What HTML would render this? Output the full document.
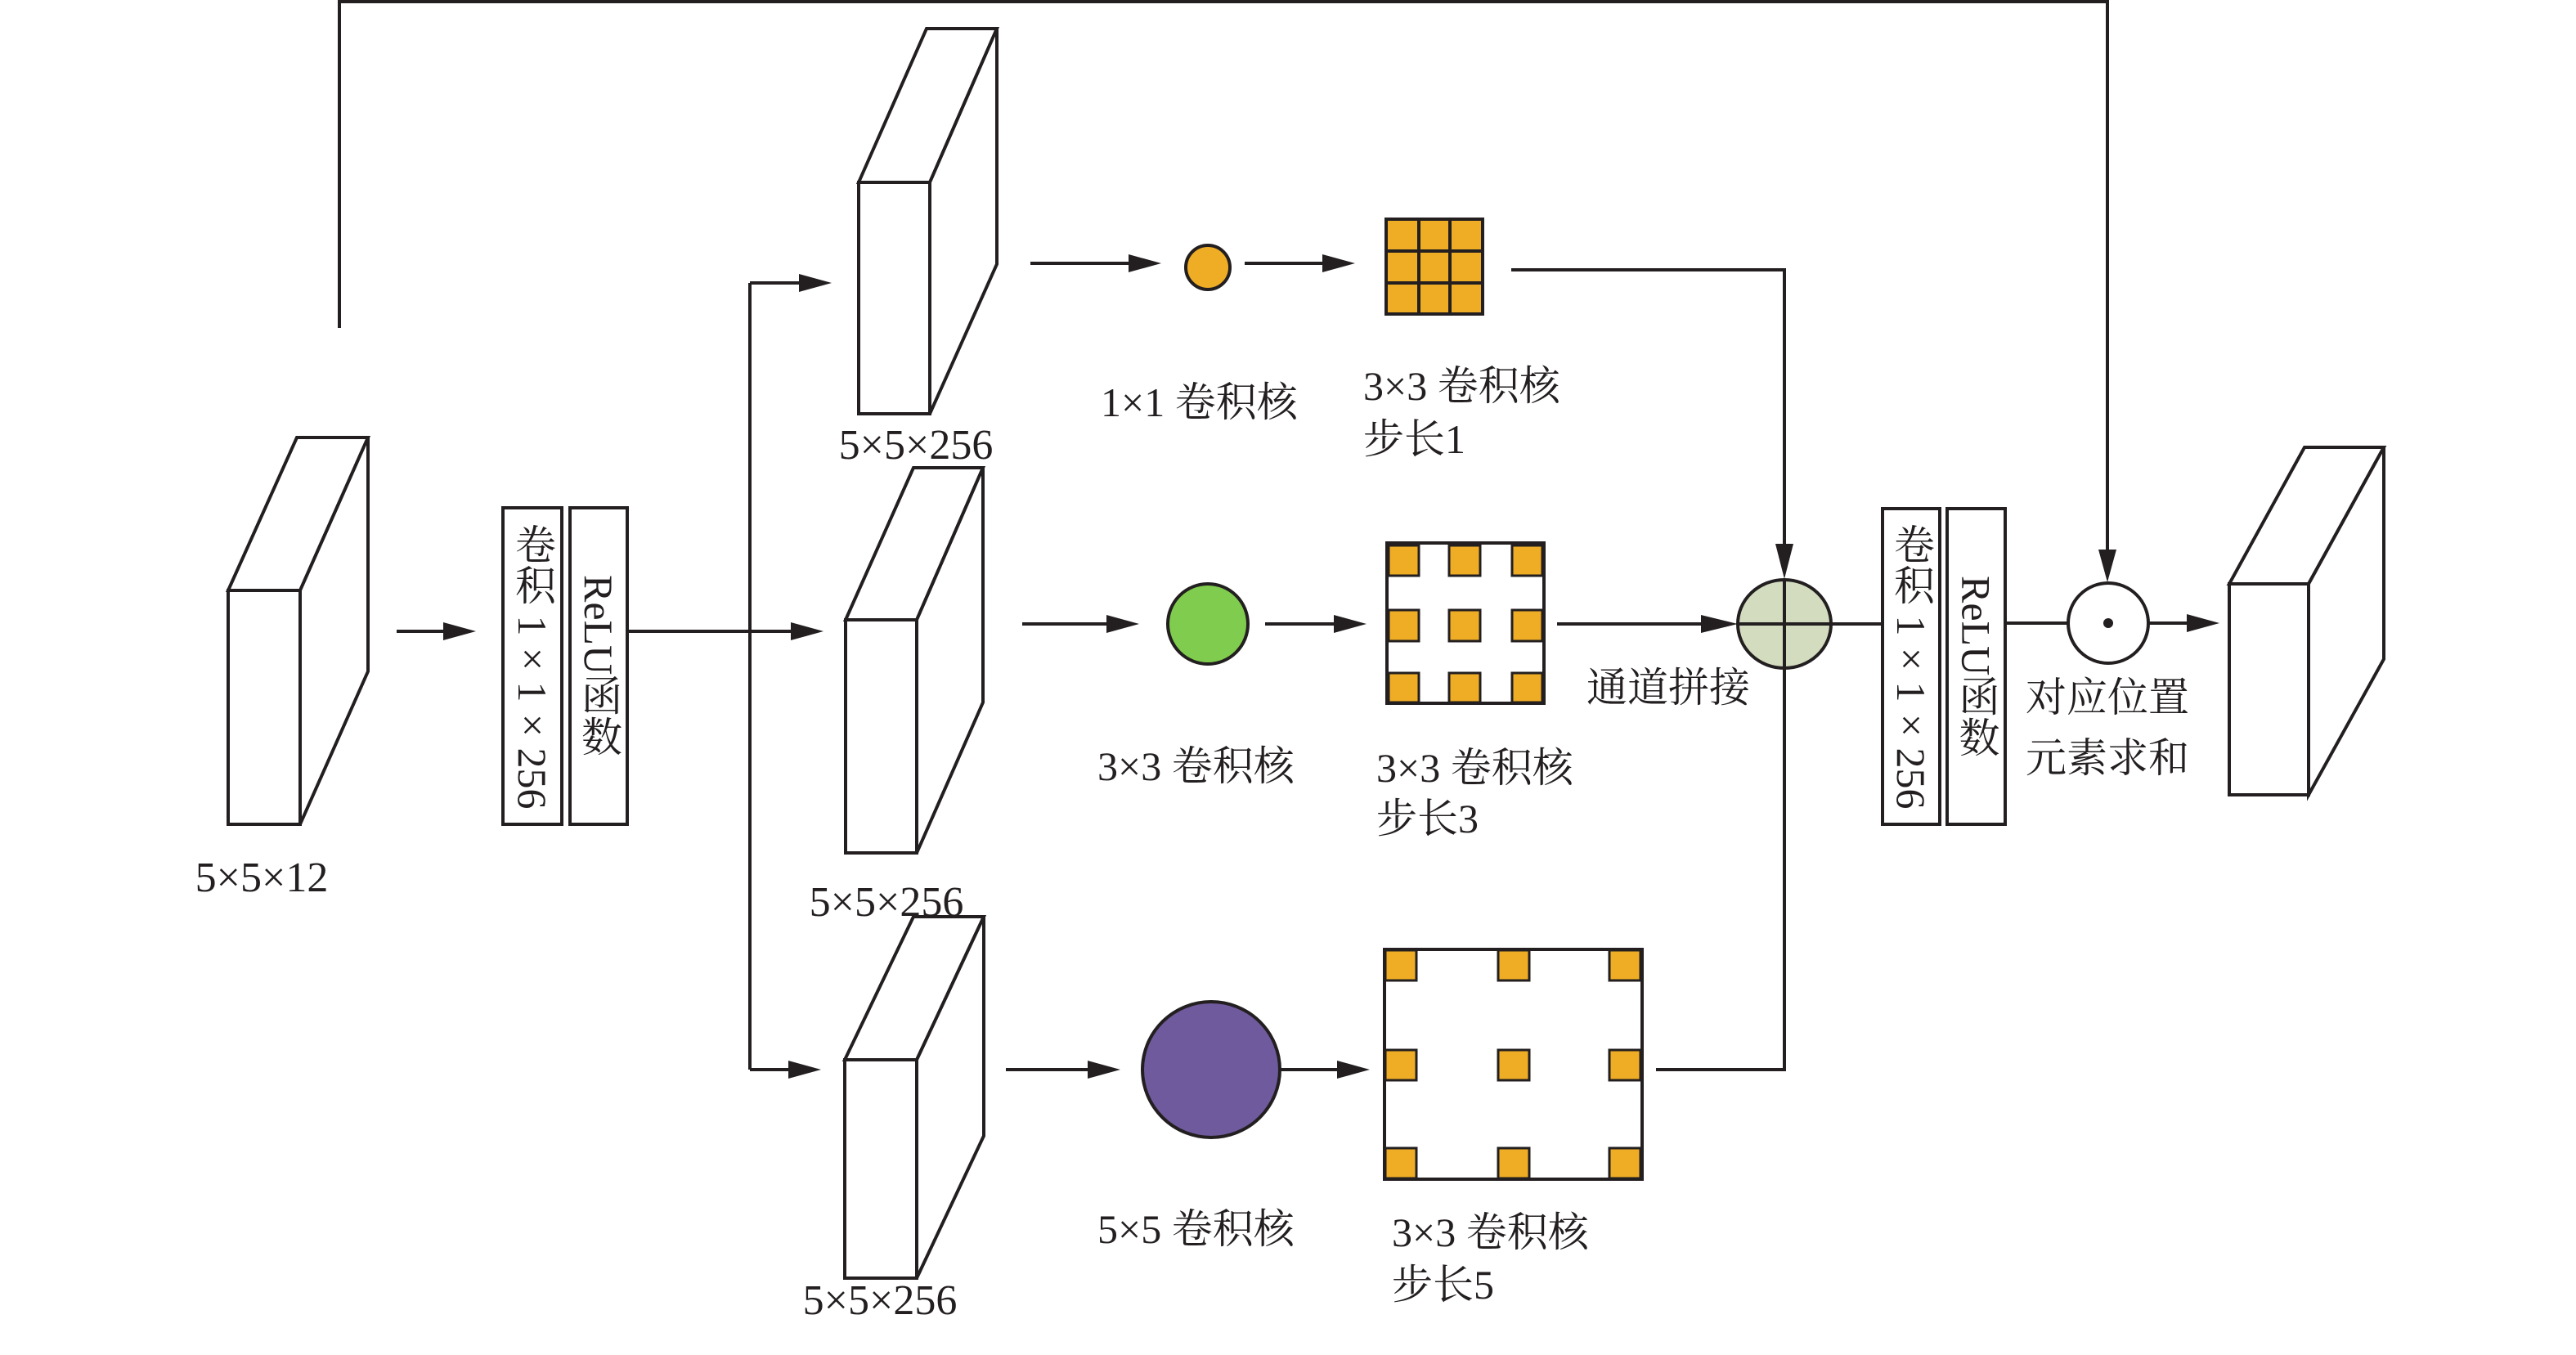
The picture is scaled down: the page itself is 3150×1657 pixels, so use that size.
<!DOCTYPE html>
<html><head><meta charset="utf-8"><style>
html,body{margin:0;padding:0;background:#fff;}
#wrap{position:relative;width:3150px;height:1657px;overflow:hidden;background:#fff;}
svg{position:absolute;left:0;top:0;}
text{font-family:"Liberation Serif","Noto Serif CJK SC",serif;fill:#231f20;}
.v{position:absolute;display:flex;align-items:center;justify-content:center;writing-mode:vertical-rl;font-family:"Liberation Serif","Noto Serif CJK SC",serif;font-size:50px;color:#231f20;line-height:1;white-space:nowrap;}
</style></head><body><div id="wrap">
<svg width="3150" height="1657" viewBox="0 0 3150 1657">
<g fill="#fff" stroke="#231f20" stroke-width="4" stroke-linejoin="miter">
<!-- input cuboid -->
<polygon points="279,722 363,535 450,535 367,722"/>
<polygon points="367,722 450,535 450,821 367,1008"/>
<rect x="279" y="722" width="88" height="286"/>
<!-- top cuboid -->
<polygon points="1050,223 1133,35 1219,35 1137,223"/>
<polygon points="1137,223 1219,35 1219,323 1137,506"/>
<rect x="1050" y="223" width="87" height="283"/>
<!-- mid cuboid -->
<polygon points="1034,758 1117,572 1202,572 1121,758"/>
<polygon points="1121,758 1202,572 1202,859 1121,1043"/>
<rect x="1034" y="758" width="87" height="285"/>
<!-- bottom cuboid -->
<polygon points="1033,1296 1117,1121 1203,1121 1121,1296"/>
<polygon points="1121,1296 1203,1121 1203,1389 1121,1563"/>
<rect x="1033" y="1296" width="88" height="267"/>
<!-- output cuboid -->
<polygon points="2726,714 2818,547 2915,547 2823,714"/>
<polygon points="2823,714 2915,547 2915,806 2823,972"/>
<rect x="2726" y="714" width="97" height="258"/>
<!-- boxes -->
<rect x="615" y="621" width="72" height="387"/>
<rect x="697" y="621" width="70" height="387"/>
<rect x="2302" y="622" width="70" height="386"/>
<rect x="2381" y="622" width="71" height="386"/>
</g>
<g fill="none" stroke="#231f20" stroke-width="4">
<polyline points="415,401 415,2 2577,2 2577,700"/>
<line x1="485" y1="772" x2="560" y2="772"/>
<line x1="767" y1="772" x2="985" y2="772"/>
<line x1="917" y1="346" x2="917" y2="1308"/>
<line x1="917" y1="346" x2="995" y2="346"/>
<line x1="917" y1="1308" x2="982" y2="1308"/>
<line x1="1260" y1="322" x2="1398" y2="322"/>
<line x1="1522" y1="322" x2="1635" y2="322"/>
<polyline points="1848,330 2182,330 2182,690"/>
<line x1="1250" y1="763" x2="1371" y2="763"/>
<line x1="1547" y1="763" x2="1649" y2="763"/>
<line x1="1904" y1="763" x2="2100" y2="763"/>
<line x1="1230" y1="1308" x2="1348" y2="1308"/>
<line x1="1566" y1="1308" x2="1653" y2="1308"/>
<polyline points="2025,1308 2182,1308 2182,815"/>
<line x1="2239" y1="763" x2="2302" y2="763"/>
<line x1="2452" y1="762" x2="2528" y2="762"/>
<line x1="2628" y1="762" x2="2692" y2="762"/>
</g>
<g fill="#231f20">
<polygon points="582,772 542,761 542,783"/>
<polygon points="1007,772 967,761 967,783"/>
<polygon points="1017,346 977,335 977,357"/>
<polygon points="1004,1308 964,1297 964,1319"/>
<polygon points="1420,322 1380,311 1380,333"/>
<polygon points="1657,322 1617,311 1617,333"/>
<polygon points="1393,763 1353,752 1353,774"/>
<polygon points="1671,763 1631,752 1631,774"/>
<polygon points="2125,763 2080,752 2080,774"/>
<polygon points="1370,1308 1330,1297 1330,1319"/>
<polygon points="1675,1308 1635,1297 1635,1319"/>
<polygon points="2714,762 2674,751 2674,773"/>
<polygon points="2182,708 2171,665 2193,665"/>
<polygon points="2577,712 2566,672 2588,672"/>
</g>
<!-- circles -->
<g stroke="#231f20" stroke-width="4">
<circle cx="1477" cy="327" r="27" fill="#efad25"/>
<circle cx="1477" cy="763" r="49" fill="#7fcc4e"/>
<ellipse cx="1481" cy="1308" rx="84" ry="83" fill="#6e5a9c"/>
<ellipse cx="2182" cy="763" rx="57" ry="54" fill="#d3dcbf"/>
<line x1="2125" y1="763" x2="2239" y2="763"/>
<line x1="2182" y1="709" x2="2182" y2="817"/>
<circle cx="2578" cy="762" r="49" fill="#fff"/>
</g>
<circle cx="2578" cy="762" r="6" fill="#231f20"/>
<!-- grid 1 -->
<g stroke="#231f20" stroke-width="4">
<rect x="1695" y="268" width="118" height="116" fill="#efad25"/>
<line x1="1735" y1="268" x2="1735" y2="384"/>
<line x1="1773" y1="268" x2="1773" y2="384"/>
<line x1="1695" y1="307" x2="1813" y2="307"/>
<line x1="1695" y1="346" x2="1813" y2="346"/>
</g>
<!-- grid 2 -->
<g stroke="#231f20" stroke-width="3" fill="#efad25">
<rect x="1696" y="664" width="192" height="196" fill="#fff" stroke-width="4"/>
<rect x="1698" y="667" width="37" height="37"/><rect x="1772" y="667" width="38" height="37"/><rect x="1849" y="667" width="37" height="37"/>
<rect x="1698" y="746" width="37" height="38"/><rect x="1772" y="746" width="38" height="38"/><rect x="1849" y="746" width="37" height="38"/>
<rect x="1698" y="823" width="37" height="36"/><rect x="1772" y="823" width="38" height="36"/><rect x="1849" y="823" width="37" height="36"/>
</g>
<!-- grid 3 -->
<g stroke="#231f20" stroke-width="3" fill="#efad25">
<rect x="1693" y="1161" width="315" height="281" fill="#fff" stroke-width="4"/>
<rect x="1694" y="1162" width="38" height="37"/><rect x="1832" y="1162" width="38" height="37"/><rect x="1968" y="1162" width="38" height="37"/>
<rect x="1694" y="1284" width="38" height="37"/><rect x="1832" y="1284" width="38" height="37"/><rect x="1968" y="1284" width="38" height="37"/>
<rect x="1694" y="1404" width="38" height="37"/><rect x="1832" y="1404" width="38" height="37"/><rect x="1968" y="1404" width="38" height="37"/>
</g>
<!-- labels -->
<g font-size="52">
<text x="320" y="1090" text-anchor="middle">5×5×12</text>
<text x="1120" y="561" text-anchor="middle">5×5×256</text>
<text x="1084" y="1120" text-anchor="middle">5×5×256</text>
<text x="1076" y="1607" text-anchor="middle">5×5×256</text>
</g>
<g font-size="50">
<text x="1346" y="509">1×1 卷积核</text>
<text x="1667" y="489">3×3 卷积核</text>
<text x="1667" y="554">步长1</text>
<text x="1342" y="954">3×3 卷积核</text>
<text x="1683" y="956">3×3 卷积核</text>
<text x="1683" y="1018">步长3</text>
<text x="1940" y="858">通道拼接</text>
<text x="1342" y="1520">5×5 卷积核</text>
<text x="1702" y="1524">3×3 卷积核</text>
<text x="1702" y="1588">步长5</text>
<text x="2477" y="870">对应位置</text>
<text x="2477" y="944">元素求和</text>
</g>
</svg>
<div class="v" style="left:615px;top:621px;width:72px;height:387px;">卷积 1×1×256</div>
<div class="v" style="left:697px;top:621px;width:70px;height:387px;">ReLU函数</div>
<div class="v" style="left:2302px;top:622px;width:70px;height:386px;">卷积 1×1×256</div>
<div class="v" style="left:2381px;top:622px;width:71px;height:386px;">ReLU函数</div>
</div></body></html>
